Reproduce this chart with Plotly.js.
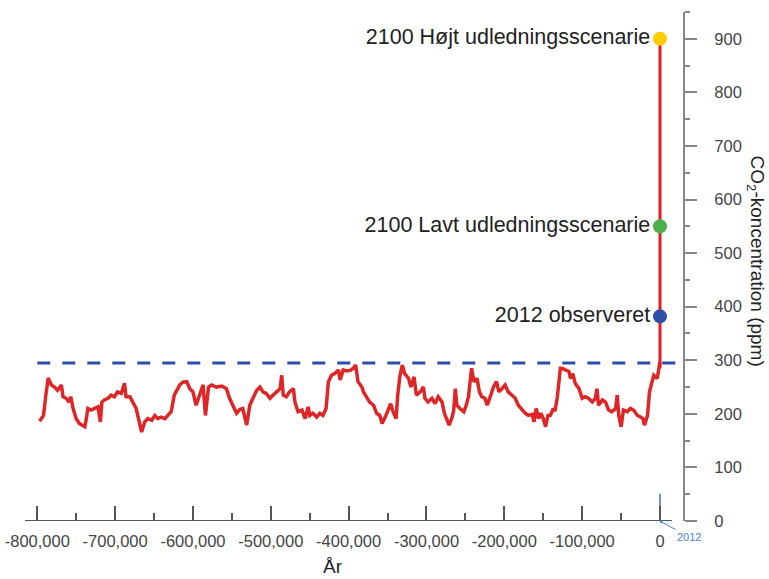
<!DOCTYPE html>
<html>
<head>
<meta charset="utf-8">
<script src="https://cdn.plot.ly/plotly-3.0.1.min.js"></script>
<style>html,body{margin:0;padding:0;background:#fff;}#chart{width:769px;height:579px;}</style>
</head>
<body>
<div id="chart"></div>
<script>
// Ice-core CO2 record (years relative to present, ppm)
const historyYears = [-797000,-792000,-789000,-786000,-782000,-778000,-774000,-769000,-767000,-763000,-759000,-757000,-754000,-750000,-746000,-742000,-739000,-737000,-735000,-731000,-727000,-722000,-719000,-717000,-714000,-709000,-705000,-701000,-697000,-692000,-688000,-686000,-681000,-677000,-673000,-669000,-666000,-662000,-658000,-653000,-649000,-645000,-641000,-636000,-632000,-628000,-624000,-621000,-617000,-613000,-608000,-604000,-600000,-596000,-591000,-587000,-584000,-580000,-576000,-570000,-563000,-557000,-553000,-549000,-544000,-540000,-536000,-531000,-527000,-523000,-518000,-514000,-510000,-506000,-501000,-497000,-493000,-488000,-486000,-484000,-480000,-476000,-471000,-469000,-465000,-460000,-456000,-452000,-450000,-446000,-441000,-437000,-433000,-429000,-426000,-422000,-418000,-413000,-411000,-407000,-403000,-398000,-394000,-391000,-388000,-383000,-381000,-377000,-373000,-368000,-364000,-360000,-357000,-353000,-349000,-346000,-343000,-339000,-337000,-334000,-331000,-328000,-323000,-320000,-316000,-313000,-308000,-304000,-302000,-298000,-293000,-289000,-285000,-280000,-277000,-274000,-271000,-267000,-265000,-263000,-261000,-257000,-252000,-249000,-246000,-244000,-242000,-239000,-235000,-232000,-229000,-225000,-222000,-218000,-214000,-210000,-207000,-203000,-199000,-195000,-190000,-186000,-182000,-177000,-173000,-169000,-164000,-162000,-159000,-156000,-153000,-150000,-147000,-144000,-141000,-137000,-135000,-132000,-130000,-128000,-126000,-122000,-117000,-115000,-112000,-109000,-104000,-100000,-96000,-92000,-87000,-83000,-81000,-79000,-74000,-70000,-66000,-62000,-57000,-55000,-53000,-50000,-47000,-42000,-38000,-34000,-29000,-25000,-22000,-20000,-16000,-13500,-10000,-8000,-3600,-1500,0];
const historyCO2 = [186,197,235,267,254,250,244,254,232,229,222,232,210,191,182,179,176,191,210,207,210,213,185,222,226,229,235,232,241,238,257,232,232,222,210,185,166,185,191,188,197,191,194,191,197,204,235,244,254,259,260,247,241,216,238,254,197,250,254,250,252,247,229,216,201,208,210,179,216,229,244,250,241,238,229,235,241,247,272,235,232,241,247,222,204,207,191,213,197,201,194,201,197,210,260,272,275,282,263,282,280,281,285,291,260,250,241,232,222,216,201,197,182,194,210,219,204,191,235,272,291,275,266,250,269,235,241,250,229,222,229,219,232,222,201,191,179,194,207,247,216,210,204,216,232,260,285,260,266,241,232,229,216,232,250,260,241,247,254,241,235,229,216,207,201,197,199,185,210,191,201,191,176,197,197,210,205,230,260,285,285,282,279,266,275,257,247,229,232,229,222,229,247,216,226,222,207,204,210,235,197,176,207,204,210,207,197,194,191,179,197,241,260,272,266,285,297];

// Modern rise to the 2100 scenarios
const modernYears = [0, 0];
const modernCO2 = [285, 900];

// Pre-industrial ceiling
const ceilingYears = [-800000, 29550];
const ceilingCO2 = [295, 295];

// Highlighted points
const pointYears = [0, 0, 0];
const pointCO2 = [900, 550, 382];
const pointLabels = ["2100 Højt udledningsscenarie", "2100 Lavt udledningsscenarie", "2012 observeret"];
const pointColors = ["#FFCC00", "#4DB04A", "#2F4FA6"];

// Small 2012 marker on the axis
const markYears = [0, 0];
const markCO2 = [0, 51];

// Axis ticks
const xTickVals = [-800000,-700000,-600000,-500000,-400000,-300000,-200000,-100000,0];
const xTickText = ["-800,000","-700,000","-600,000","-500,000","-400,000","-300,000","-200,000","-100,000","0"];

const FONT = "Liberation Sans, Arial, sans-serif";

const traces = [
  {x: ceilingYears, y: ceilingCO2, type: "scatter", mode: "lines",
   line: {color: "#2E4DA7", width: 3, dash: "13px,12px"}, hoverinfo: "skip"},
  {x: historyYears, y: historyCO2, type: "scatter", mode: "lines",
   line: {color: "#DF2626", width: 3.5}, hoverinfo: "skip"},
  {x: modernYears, y: modernCO2, type: "scatter", mode: "lines",
   line: {color: "#E02020", width: 3}, hoverinfo: "skip"},
  {x: markYears, y: markCO2, type: "scatter", mode: "lines",
   line: {color: "#3D6FD6", width: 1.5}, hoverinfo: "skip"},
  {x: pointYears, y: pointCO2, type: "scatter", mode: "markers+text",
   text: pointLabels, textposition: "middle left",
   textfont: {family: FONT, size: 21.5, color: "#222"},
   marker: {size: 14, color: pointColors}, cliponaxis: false, hoverinfo: "skip"}
];

const layout = {
  width: 769, height: 579,
  margin: {l: 25, r: 86, t: 12, b: 58},
  paper_bgcolor: "#fff", plot_bgcolor: "#fff",
  showlegend: false,
  font: {family: FONT, color: "#444"},
  xaxis: {
    range: [-815800, 29550],
    tickmode: "array", tickvals: xTickVals, ticktext: xTickText,
    ticks: "inside", ticklen: 15, tickwidth: 2, tickcolor: "#555",
    minor: {tickmode: "linear", tick0: 0, dtick: 50000, ticks: "inside", ticklen: 8, tickwidth: 2, tickcolor: "#555"},
    showline: false, showgrid: false, zeroline: false,
    tickfont: {family: FONT, size: 16.5, color: "#444"},
    ticklabelstandoff: 8
  },
  yaxis: {
    range: [0, 950], side: "right",
    tickmode: "linear", tick0: 0, dtick: 100,
    ticks: "outside", ticklen: 12, tickwidth: 2, tickcolor: "#888",
    minor: {tickmode: "linear", tick0: 0, dtick: 50, ticks: "outside", ticklen: 5, tickwidth: 2, tickcolor: "#888"},
    showline: true, linecolor: "#888", linewidth: 2,
    showgrid: false, zeroline: false,
    tickfont: {family: FONT, size: 16.5, color: "#444"},
    ticklabelstandoff: 14
  },
  shapes: [
    {type: "line", xref: "x", yref: "y", x0: -815800, x1: 15400, y0: 0, y1: 0,
     line: {color: "#555", width: 2}}
  ],
  annotations: [
    {text: "År", xref: "x", yref: "paper", x: -420000, y: -0.089, yanchor: "middle",
     showarrow: false, font: {family: FONT, size: 19, color: "#222"}},
    {text: "CO<sub>2</sub>-koncentration (ppm)", xref: "paper", yref: "paper", x: 1.132, y: 0.51,
     textangle: 90, showarrow: false, font: {family: FONT, size: 19, color: "#222"}},
    {text: "2012", xref: "x", yref: "y", x: 0, y: 0, ax: 29, ay: 16,
     showarrow: true, arrowhead: 1, arrowsize: 0.8, arrowwidth: 1, arrowcolor: "#4A7FD8",
     font: {family: FONT, size: 11, color: "#4A7FD8"}}
  ]
};

Plotly.newPlot("chart", traces, layout, {staticPlot: true, displayModeBar: false});
</script>
</body>
</html>
